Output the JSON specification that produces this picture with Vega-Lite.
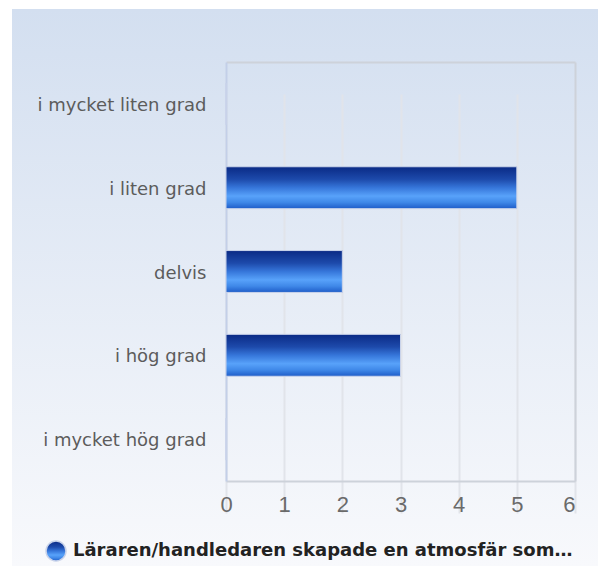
{
  "$schema": "https://vega.github.io/schema/vega-lite/v6.json",
  "width": 586,
  "height": 557,
  "autosize": {"type": "none"},
  "padding": {"left": 12, "top": 9, "right": 0, "bottom": 0},
  "background": "#ffffff",
  "config": {
    "font": "DejaVu Sans",
    "view": {
      "stroke": null,
      "fill": {"gradient": "linear", "x1": 0, "y1": 0, "x2": 0, "y2": 1,
        "stops": [{"offset": 0, "color": "#d3dff0"}, {"offset": 1, "color": "#f8f9fc"}]}
    },
    "axis": {"labelFont": "DejaVu Sans", "labelFontSize": 18, "labelColor": "#5c5c5c", "ticks": false, "tickSize": 0, "title": null}
  },
  "data": {"values": [
    {"svar": "i mycket liten grad", "antal": 0, "serie": "Läraren/handledaren skapade en atmosfär som…"},
    {"svar": "i liten grad", "antal": 5, "serie": "Läraren/handledaren skapade en atmosfär som…"},
    {"svar": "delvis", "antal": 2, "serie": "Läraren/handledaren skapade en atmosfär som…"},
    {"svar": "i hög grad", "antal": 3, "serie": "Läraren/handledaren skapade en atmosfär som…"},
    {"svar": "i mycket hög grad", "antal": 0, "serie": "Läraren/handledaren skapade en atmosfär som…"}
  ]},
  "layer": [
    {
      "mark": {
        "type": "bar",
        "strokeWidth": 1,
        "fill": {"gradient": "linear", "x1": 0, "y1": 0, "x2": 0, "y2": 1,
          "stops": [
            {"offset": 0, "color": "#0a2a85"},
            {"offset": 0.3, "color": "#1d4aab"},
            {"offset": 0.5, "color": "#3676da"},
            {"offset": 0.7, "color": "#58a2fa"},
            {"offset": 0.85, "color": "#3f88e8"},
            {"offset": 1, "color": "#1e5cc8"}
          ]}
      },
      "encoding": {
        "y": {
          "field": "svar", "type": "nominal", "sort": null,
          "scale": {"range": [53, 472], "paddingInner": 0.5, "paddingOuter": 0.25},
          "axis": {"orient": "left", "offset": -214, "labelPadding": 20, "labelOffset": 2, "domainColor": "#c3cfe8", "domainWidth": 2, "grid": false}
        },
        "x": {
          "field": "antal", "type": "quantitative",
          "scale": {"domain": [0, 6], "range": [214, 563], "nice": false},
          "axis": {
            "orient": "bottom", "offset": -85, "values": [0, 1, 2, 3, 4, 5, 6],
            "labelFont": "Liberation Sans", "labelFontSize": 22,
            "labelPadding": 13, "labelColor": "#6a6a6a",
            "labelAlign": {"condition": {"test": "datum.value == 6", "value": "right"}, "value": "center"},
            "domainColor": "#cdd2da", "domainWidth": 2,
            "grid": true, "gridColor": "#e1e4ea", "gridWidth": 2
          }
        },
        "stroke": {
          "field": "serie", "type": "nominal",
          "scale": {"range": ["#c9d3ea"]},
          "legend": {
            "orient": "none", "legendX": 33, "legendY": 531, "title": null,
            "symbolType": "circle", "symbolSize": 400,
            "labelFont": "DejaVu Sans", "labelFontSize": 18, "labelFontWeight": "bold", "labelColor": "#222222",
            "labelLimit": 700, "labelOffset": 6, "padding": 0,
            "encode": {"symbols": {"update": {
              "fill": {"value": {"gradient": "linear", "x1": 0, "y1": 0, "x2": 1, "y2": 0,
                "stops": [{"offset": 0, "color": "#4a8ff0"}, {"offset": 0.5, "color": "#2258c0"}, {"offset": 1, "color": "#0a2a80"}]}},
              "stroke": {"value": "transparent"},
              "strokeWidth": {"value": 0}
            }}}
          }
        }
      }
    },
    {
      "mark": {"type": "bar", "opacity": 0},
      "encoding": {
        "y": {"field": "svar", "type": "nominal", "sort": null,
          "axis": {"orient": "right", "offset": -23, "labels": false, "grid": false, "domainColor": "#cdd2da", "domainWidth": 2}},
        "x": {"field": "antal", "type": "quantitative",
          "axis": {"orient": "top", "offset": -53, "labels": false, "grid": false, "domainColor": "#cdd2da", "domainWidth": 2}}
      }
    }
  ],
  "resolve": {"axis": {"x": "independent", "y": "independent"}}
}
